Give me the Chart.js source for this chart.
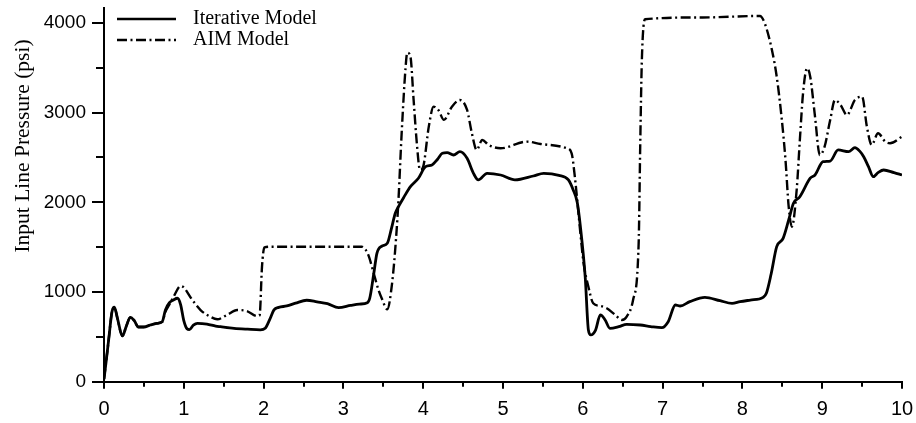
<!DOCTYPE html>
<html>
<head>
<meta charset="utf-8">
<script src="https://cdn.jsdelivr.net/npm/chart.js@4"></script>
<style>
  html, body { margin: 0; padding: 0; background: #fff; }
  #wrap { width: 916px; height: 423px; }
</style>
</head>
<body>
<div id="wrap"><canvas id="c" width="916" height="423"></canvas></div>
<script>
// Time axis (0–10) and pressure readings for the two models
const iterX = [0.00, 0.03, 0.06, 0.10, 0.13, 0.17, 0.23, 0.28, 0.33, 0.38, 0.43, 0.50, 0.58, 0.66, 0.73,
  0.77, 0.82, 0.87, 0.92, 0.96, 1.00, 1.04, 1.07, 1.12, 1.17, 1.29, 1.40, 1.46, 1.63, 1.80, 1.96,
  2.02, 2.08, 2.13, 2.19, 2.29, 2.40, 2.54, 2.67, 2.80, 2.94, 3.09, 3.20, 3.30, 3.33, 3.38, 3.42,
  3.48, 3.55, 3.60, 3.65, 3.69, 3.76, 3.84, 3.94, 4.03, 4.11, 4.18, 4.24, 4.30, 4.38, 4.46, 4.55,
  4.63, 4.69, 4.80, 4.97, 5.15, 5.38, 5.51, 5.70, 5.82, 5.88, 5.93, 5.97, 6.03, 6.07, 6.10, 6.16,
  6.22, 6.28, 6.34, 6.45, 6.55, 6.72, 6.85, 6.99, 7.07, 7.16, 7.22, 7.34, 7.53, 7.72, 7.87, 7.97,
  8.10, 8.26, 8.30, 8.36, 8.43, 8.51, 8.58, 8.64, 8.72, 8.85, 8.91, 9.01, 9.10, 9.20, 9.33, 9.41,
  9.47, 9.52, 9.58, 9.64, 9.70, 9.77, 9.90, 10.00];
const iterY = [30, 250, 480, 780, 830, 700, 510, 620, 718, 680, 610, 610, 632, 650, 669,
  800, 880, 910, 930, 860, 680, 590, 580, 630, 651, 643, 620, 613, 595, 585, 578,
  595, 700, 800, 829, 844, 875, 908, 890, 870, 825, 850, 865, 880, 930, 1200, 1431,
  1510, 1543, 1700, 1877, 1951, 2060, 2174, 2268, 2397, 2416, 2480, 2546, 2553, 2527, 2564, 2490,
  2323, 2249, 2323, 2304, 2249, 2293, 2323, 2300, 2249, 2137, 2000, 1728, 1171, 576, 521, 576,
  744, 688, 595, 613, 640, 632, 615, 602, 669, 855, 844, 892, 941, 903, 874, 892,
  910, 940, 985, 1200, 1505, 1598, 1803, 1989, 2062, 2268, 2304, 2453, 2460, 2583, 2564, 2609,
  2570, 2508, 2397, 2285, 2330, 2360, 2330, 2304];

const aimX = [0.00, 0.03, 0.06, 0.10, 0.13, 0.17, 0.23, 0.28, 0.33, 0.38, 0.43, 0.50, 0.58, 0.66, 0.73,
  0.77, 0.82, 0.88, 0.96, 1.00, 1.10, 1.21, 1.32, 1.42, 1.54, 1.67, 1.79, 1.92, 1.95, 1.98, 2.01,
  2.10, 3.23, 3.28, 3.32, 3.38, 3.44, 3.48, 3.55, 3.61, 3.66, 3.69, 3.73, 3.78, 3.80, 3.84, 3.88,
  3.92, 3.96, 4.00, 4.07, 4.13, 4.19, 4.26, 4.36, 4.46, 4.55, 4.61, 4.67, 4.74, 4.82, 4.97, 5.30,
  5.47, 5.80, 5.86, 5.90, 5.97, 6.01, 6.07, 6.13, 6.22, 6.30, 6.40, 6.49, 6.55, 6.63, 6.70, 6.72,
  6.74, 6.78, 7.50, 8.22, 8.28, 8.37, 8.43, 8.49, 8.54, 8.58, 8.62, 8.68, 8.72, 8.76, 8.81, 8.85,
  8.91, 8.97, 9.03, 9.10, 9.16, 9.23, 9.31, 9.41, 9.50, 9.56, 9.62, 9.70, 9.79, 9.85, 10.00];
const aimY = [30, 250, 480, 780, 830, 700, 510, 620, 718, 680, 610, 610, 632, 650, 669,
  780, 860, 960, 1067, 1050, 920, 799, 730, 696, 744, 799, 788, 732, 740, 1282, 1498,
  1505, 1505, 1470, 1394, 1208, 1022, 930, 807, 1097, 1600, 2025, 2769, 3512, 3668, 3623, 3140,
  2658, 2360, 2397, 2843, 3066, 3029, 2918, 3066, 3140, 3029, 2769, 2583, 2695, 2639, 2602, 2676,
  2650, 2602, 2546, 2285, 1654, 1320, 1059, 874, 844, 818, 750, 688, 725, 911, 1543, 2658,
  3586, 4040, 4060, 4077, 3995, 3698, 3400, 2954, 2472, 1951, 1728, 2137, 2695, 3215, 3494, 3400,
  2954, 2527, 2620, 2918, 3140, 3085, 2973, 3140, 3177, 2843, 2639, 2769, 2676, 2658, 2731];

const seriesNames = ['Iterative Model', 'AIM Model'];
const yLabelValues = [0, 1000, 2000, 3000, 4000];
const xLabelValues = [0, 1, 2, 3, 4, 5, 6, 7, 8, 9, 10];
const yTitle = 'Input Line Pressure (psi)';

const AIM_DASH = [10, 3.5, 2, 3.5];
const SANS = '"Liberation Sans", Arial, Helvetica, sans-serif';
const SERIF = '"Liberation Serif", "Times New Roman", Times, serif';

const toPoints = (xs, ys) => xs.map((x, i) => ({ x, y: ys[i] }));

// Tick marks (long on labelled values, short in between), legend and y-axis title
const decorations = {
  id: 'decorations',
  afterDraw(chart) {
    const { ctx, scales: { x, y }, chartArea } = chart;
    ctx.save();
    ctx.strokeStyle = '#000';
    ctx.lineWidth = 2;
    for (let v = 0; v <= 4000; v += 500) {
      const py = Math.round(y.getPixelForValue(v));
      const len = v % 1000 === 0 ? 12 : 8;
      ctx.beginPath();
      ctx.moveTo(chartArea.left - len, py);
      ctx.lineTo(chartArea.left, py);
      ctx.stroke();
    }
    for (let v = 0; v <= 10; v += 0.5) {
      const px = Math.round(x.getPixelForValue(v));
      const len = Number.isInteger(v) ? 7 : 5;
      ctx.beginPath();
      ctx.moveTo(px, chartArea.bottom);
      ctx.lineTo(px, chartArea.bottom + len);
      ctx.stroke();
    }

    // legend
    const rows = [{ y: 19, dash: [], w: 2.6 }, { y: 40, dash: AIM_DASH, w: 2.4 }];
    rows.forEach((r, i) => {
      ctx.beginPath();
      ctx.setLineDash(r.dash);
      ctx.lineWidth = r.w;
      ctx.moveTo(117, r.y);
      ctx.lineTo(176, r.y);
      ctx.stroke();
      ctx.setLineDash([]);
      ctx.fillStyle = '#000';
      ctx.font = '20px ' + SERIF;
      ctx.textBaseline = 'middle';
      ctx.textAlign = 'left';
      ctx.fillText(seriesNames[i], 193, r.y);
    });

    // y-axis title
    ctx.translate(23, 146);
    ctx.rotate(-Math.PI / 2);
    ctx.font = '21.5px ' + SERIF;
    ctx.textAlign = 'center';
    ctx.textBaseline = 'middle';
    ctx.fillText(yTitle, 0, 0);
    ctx.restore();
  }
};

new Chart(document.getElementById('c'), {
  type: 'line',
  data: {
    datasets: [
      {
        label: seriesNames[0],
        data: toPoints(iterX, iterY),
        borderColor: '#000',
        borderWidth: 2.8,
        pointRadius: 0,
        cubicInterpolationMode: 'monotone',
        fill: false
      },
      {
        label: seriesNames[1],
        data: toPoints(aimX, aimY),
        borderColor: '#000',
        borderWidth: 2.4,
        borderDash: AIM_DASH,
        pointRadius: 0,
        cubicInterpolationMode: 'monotone',
        fill: false
      }
    ]
  },
  options: {
    responsive: false,
    animation: false,
    events: [],
    layout: { padding: { left: 0, right: 14, top: 7.6, bottom: 0 } },
    plugins: { legend: { display: false }, tooltip: { enabled: false } },
    scales: {
      x: {
        type: 'linear',
        min: 0,
        max: 10,
        afterBuildTicks: (s) => { s.ticks = xLabelValues.map(v => ({ value: v })); },
        afterFit: (s) => { s.height = 41.3; s.paddingLeft = 0; s.paddingRight = 0; },
        grid: { display: true, drawOnChartArea: false, drawTicks: false },
        border: { display: true, color: '#000', width: 2 },
        ticks: { color: '#000', padding: 16, maxRotation: 0, font: { family: SANS, size: 20 },
          callback: (v) => String(v) }
      },
      y: {
        type: 'linear',
        min: 0,
        max: 4170,
        afterBuildTicks: (s) => { s.ticks = yLabelValues.map(v => ({ value: v })); },
        afterFit: (s) => { s.width = 104; s.paddingTop = 0; s.paddingBottom = 0; },
        grid: { display: true, drawOnChartArea: false, drawTicks: false },
        border: { display: true, color: '#000', width: 2 },
        ticks: { color: '#000', padding: 18, font: { family: SANS, size: 19 },
          callback: (v) => String(v) }
      }
    }
  },
  plugins: [decorations]
});
</script>
</body>
</html>
